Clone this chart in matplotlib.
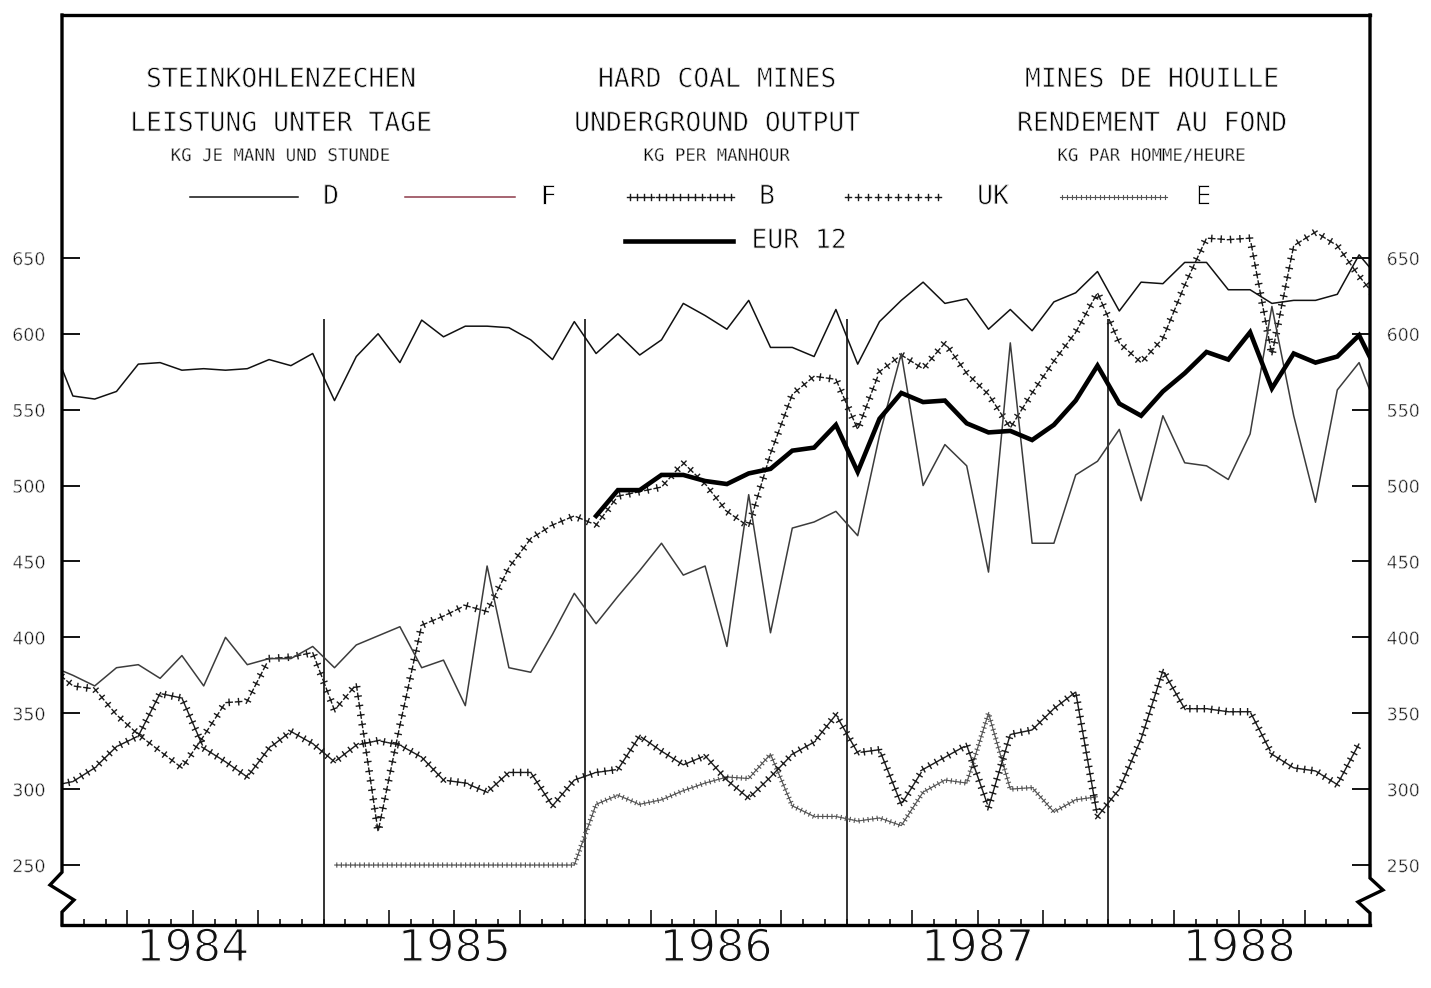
import numpy as np
import matplotlib.pyplot as plt
import matplotlib.patheffects as pe
from matplotlib.transforms import blended_transform_factory

# Monthly values, kg per manhour. Full series run Dec 1983 .. Jan 1989;
# the first and last value only lead the line into the frame edge.
d_vals = [595,
          559, 557, 562, 580, 581, 576, 577, 576, 577, 583, 579, 587,
          556, 585, 600, 581, 609, 598, 605, 605, 604, 596, 583, 608,
          587, 600, 586, 596, 620, 612, 603, 622, 591, 591, 585, 616,
          580, 608, 622, 634, 620, 623, 603, 616, 602, 621, 627, 641,
          615, 634, 633, 647, 647, 629, 629, 620, 622, 622, 626, 652,
          635]
f_vals = [381,
          375, 368, 380, 382, 373, 388, 368, 400, 382, 386, 386, 394,
          380, 395, 401, 407, 380, 385, 355, 447, 380, 377, 402, 429,
          409, 427, 444, 462, 441, 447, 394, 494, 403, 472, 476, 483,
          467, 533, 587, 500, 527, 513, 443, 594, 462, 462, 507, 516,
          537, 490, 546, 515, 513, 504, 534, 618, 546, 489, 563, 581,
          544]
uk_vals = [380,
           368, 366, 349, 336, 325, 314, 335, 357, 358, 386, 387, 390,
           352, 369, 272, 342, 408, 414, 421, 417, 446, 465, 474, 480,
           474, 493, 496, 499, 515, 501, 483, 473, 521, 560, 572, 570,
           537, 575, 586, 577, 594, 574, 560, 538, 561, 582, 601, 627,
           594, 581, 597, 632, 663, 662, 663, 586, 658, 667, 658, 638,
           620]
# Dec 1983 .. Dec 1988
b_vals = [302,
          305, 314, 328, 335, 363, 360, 327, 318, 308, 327, 338, 330,
          318, 329, 332, 329, 321, 306, 304, 298, 311, 311, 289, 306,
          311, 313, 335, 325, 316, 322, 306, 294, 308, 323, 331, 349,
          324, 326, 290, 313, 321, 329, 288, 336, 339, 353, 364, 282,
          300, 333, 378, 353, 353, 351, 351, 323, 314, 312, 303, 330]
# Jan 1985 .. Dec 1987
e_vals = [250, 250, 250, 250, 250, 250, 250, 250, 250, 250, 250, 250,
          290, 296, 290, 293, 299, 304, 308, 307, 323, 289, 282, 282,
          279, 281, 276, 298, 306, 304, 350, 300, 301, 285, 293, 295]
# Jan 1986 .. Jan 1989
eur_vals = [480, 497, 497, 507, 507, 503, 501, 508, 511, 523, 525, 540,
            509, 544, 561, 555, 556, 541, 535, 536, 530, 540, 556, 579,
            554, 546, 562, 574, 588, 583, 601, 564, 587, 581, 585, 599,
            570]

years = ['1984', '1985', '1986', '1987', '1988']
yticks = [250, 300, 350, 400, 450, 500, 550, 600, 650]

titles = [('STEINKOHLENZECHEN', 'LEISTUNG UNTER TAGE', 'KG JE MANN UND STUNDE'),
          ('HARD COAL MINES', 'UNDERGROUND OUTPUT', 'KG PER MANHOUR'),
          ('MINES DE HOUILLE', 'RENDEMENT AU FOND', 'KG PAR HOMME/HEURE')]

months = np.arange(-1, 61) + 0.5   # month centres, Dec 1983 = -0.5
MONO = 'DejaVu Sans Mono'


def crosses(spacing, size, lw, color):
    # little '+' marks strung along the path (four ticks from each point)
    return [pe.TickedStroke(spacing=spacing, angle=a, length=size,
                            linewidth=lw, foreground=color)
            for a in (0, 90, 180, 270)]


def thin(w):
    # erode glyph outlines a bit so the text looks like plotter lettering
    return [pe.Normal(), pe.Stroke(linewidth=w, foreground='white')]


sty_d = dict(color='#111111', lw=1.1)
sty_f = dict(color='#3c3c3c', lw=1.1)
sty_eur = dict(color='#000000', lw=3.3)
fx_b = crosses(5.2, 0.42, 1.0, '#1a1a1a')
fx_uk = crosses(6.8, 0.33, 1.0, '#1a1a1a')
fx_e = crosses(3.3, 0.45, 0.8, '#555555')

fig = plt.figure(figsize=(14.31, 9.88), dpi=100)
ax = fig.add_axes([62 / 1431, 63 / 988, 1308 / 1431, 910 / 988])
ax.set_xlim(0, 60)
ax.set_ylim(210.5, 810)

# year separators
ax.vlines([12, 24, 36, 48], 210.5, 610, color='#111111', lw=1.2)

ax.plot(months[13:49], e_vals, path_effects=fx_e)
ax.plot(months[:61], b_vals, path_effects=fx_b)
ax.plot(months, uk_vals, path_effects=fx_uk)
ax.plot(months, f_vals, **sty_f)
ax.plot(months, d_vals, **sty_d)
ax.plot(months[25:], eur_vals, **sty_eur, solid_joinstyle='miter')

# frame: top/bottom as spines, sides drawn with the axis-break zigzag
for s in ('left', 'right'):
    ax.spines[s].set_visible(False)
for s in ('top', 'bottom'):
    ax.spines[s].set_linewidth(2.4)
zig_l = ([0, 0, -0.0092, 0.0092, 0, 0], [1, 0.058, 0.044, 0.0275, 0.0143, 0])
zig_r = ([1, 1, 1.0099, 0.9908, 1, 1], [1, 0.0516, 0.0385, 0.0253, 0.0132, 0])
for xs, ys in (zig_l, zig_r):
    ax.plot(xs, ys, transform=ax.transAxes, color='k', lw=2.4,
            clip_on=False, solid_joinstyle='miter')

ax.set_yticks(yticks)
ax.tick_params(axis='y', direction='in', length=13, width=1.3,
               left=True, right=True, labelleft=True, labelright=True,
               labelsize=12.5, pad=12)
ax.set_xticks([m for m in range(3, 60, 3) if m % 12])
ax.set_xticks(range(1, 60), minor=True)
ax.tick_params(axis='x', which='major', direction='in', length=11,
               width=1.1, labelbottom=False)
ax.tick_params(axis='x', which='minor', direction='in', length=4.5,
               width=1.1)
for lab in ax.get_yticklabels():
    lab.set_path_effects(thin(0.5))

bt = blended_transform_factory(ax.transData, ax.transAxes)
for k, yr in enumerate(years):
    ax.text(12 * k + 6, -0.026, yr, transform=bt, ha='center', va='center',
            fontsize=32, color='#111111', path_effects=thin(1.0))

# titles
for cx, (t1, t2, t3) in zip([0.1674, 0.5008, 0.8333], titles):
    ax.text(cx, 0.9286, t1, transform=ax.transAxes, ha='center',
            va='center', fontsize=19, family=MONO, path_effects=thin(0.6))
    ax.text(cx, 0.8802, t2, transform=ax.transAxes, ha='center',
            va='center', fontsize=19, family=MONO, path_effects=thin(0.6))
    ax.text(cx, 0.8451, t3, transform=ax.transAxes, ha='center',
            va='center', fontsize=12.5, family=MONO, path_effects=thin(0.4))


# legend keys
def key(x0, x1, y, label, lx, **kw):
    ax.plot([x0, x1], [y, y], transform=ax.transAxes, clip_on=False, **kw)
    ax.text(lx, y, label, transform=ax.transAxes, ha='center', va='center',
            fontsize=19, family=MONO, path_effects=thin(0.6))


key(0.0979, 0.1804, 0.800, 'D', 0.2057, **sty_d)
key(0.2622, 0.3463, 0.800, 'F', 0.3716, color='#8e3b4a', lw=1.1)
key(0.4312, 0.5145, 0.800, 'B', 0.5390, path_effects=fx_b)
key(0.5971, 0.6735, 0.800, 'UK', 0.7118, path_effects=fx_uk)
key(0.7630, 0.8448, 0.800, 'E', 0.8723, path_effects=fx_e)
key(0.4304, 0.5130, 0.7516, 'EUR 12', 0.5635, **sty_eur)

fig.savefig('out.png', dpi=100, facecolor='white')
